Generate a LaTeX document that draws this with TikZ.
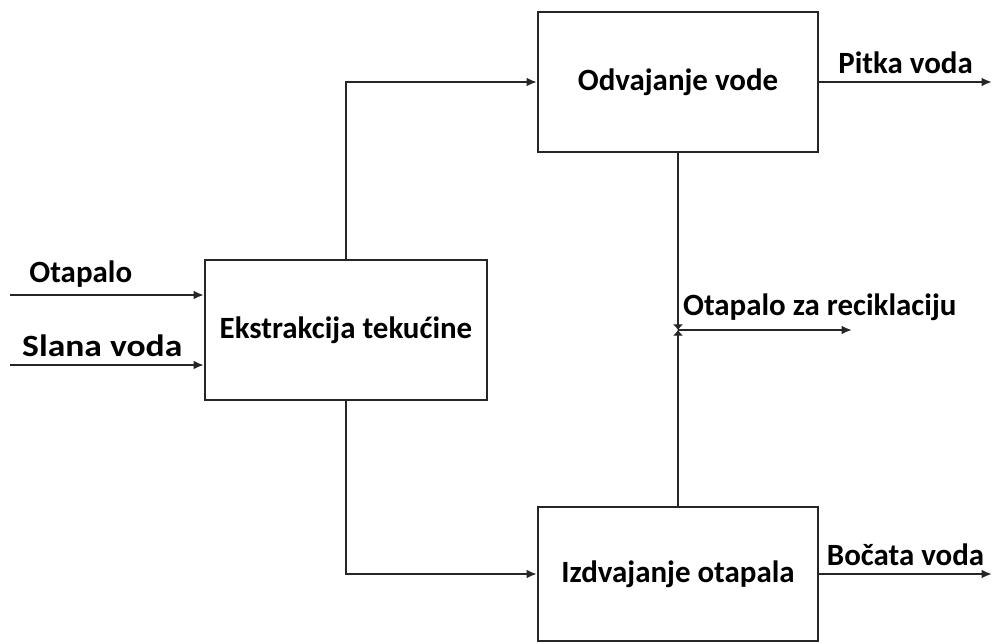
\documentclass[tikz,border=0pt]{standalone}
\usepackage{fontspec}
\setmainfont{Carlito}
\usetikzlibrary{arrows.meta,calc}

\tikzset{
  flow/.style={draw=black!85, line width=1.5pt, -{Latex[length=2.6mm,width=2.2mm]}},
  meet/.style={draw=black!85, line width=1.5pt, -{Latex[length=1.4mm,width=2.6mm]}},
  unit/.style={draw=black!85, line width=1.5pt, minimum width=7cm, minimum height=3.5cm,
    font=\fontsize{22}{26}\selectfont\bfseries},
  lbl/.style={font=\fontsize{22}{26}\selectfont\bfseries, inner sep=2pt}
}

\begin{document}
\begin{tikzpicture}
	\useasboundingbox (0,0) rectangle (24.8,-16.075);
	% process units
	\node[unit, minimum width=7.05cm] (ekstr) at (8.65,-8.25) {Ekstrakcija tekućine};
	\node[unit] (odvaj) at (16.95,-2.05) {Odvajanje vode};
	\node[unit, minimum height=3.35cm] (izdv) at (16.95,-14.35) {Izdvajanje otapala};

	% feed streams
	\coordinate (in1) at (0.25,-7.375);
	\coordinate (in2) at (0.25,-9.125);
	\draw[flow] (in1) -- (ekstr.west |- in1) node[lbl, pos=0.08, anchor=south west, yshift=1mm]{Otapalo};
	\draw[flow] (in2) -- (ekstr.west |- in2) node[lbl, pos=0.04, anchor=south west, yshift=1mm, xscale=1.15]{Slana voda};

	% from extraction to both units
	\draw[flow] (ekstr.north) |- (odvaj.west);
	\draw[flow] (ekstr.south) |- (izdv.west);

	% products
	\coordinate (out1) at (24.8,-2.05);
	\coordinate (out2) at (24.8,-14.35);
	\draw[flow] (odvaj.east) -- (out1) node[lbl, midway, above, yshift=1mm]{Pitka voda};
	\draw[flow] (izdv.east) -- (out2) node[lbl, midway, above, yshift=1mm]{Bočata voda};

	% recycled solvent
	\coordinate (rec) at (odvaj.south |- ekstr.center);
	\coordinate (recout) at (21.3,-8.25);
	\draw[meet] (odvaj.south) -- (rec);
	\draw[meet] (izdv.north) -- (rec);
	\draw[flow] (rec) -- (recout);
	\node[lbl, anchor=south west, yshift=1.5mm, xshift=0.5mm] (reclbl) at (rec) {Otapalo za reciklaciju};
\end{tikzpicture}
\end{document}
